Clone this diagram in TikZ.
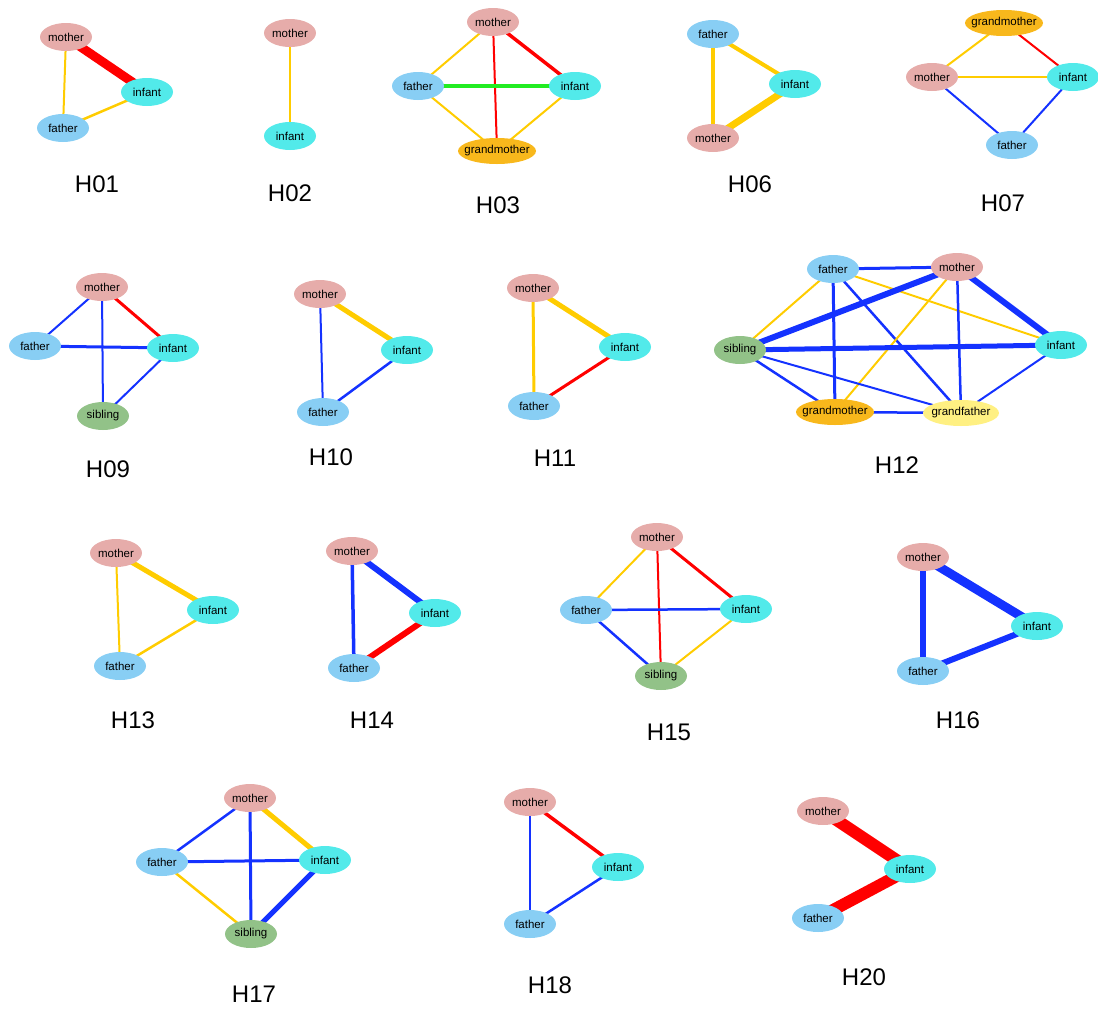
\documentclass[tikz,border=0pt]{standalone}
\usepackage{fontspec}
\setmainfont{Liberation Sans}
\usetikzlibrary{shapes.geometric}
\pgfdeclarelayer{bg}
\pgfsetlayers{bg,main}
\definecolor{mocol}{RGB}{230,172,170}
\definecolor{incol}{RGB}{82,234,234}
\definecolor{facol}{RGB}{136,206,244}
\definecolor{gmcol}{RGB}{248,184,28}
\definecolor{gfcol}{RGB}{255,240,130}
\definecolor{sicol}{RGB}{146,194,136}
\definecolor{ycol}{RGB}{255,204,0}
\definecolor{rcol}{RGB}{255,0,0}
\definecolor{bcol}{RGB}{20,50,255}
\definecolor{gcol}{RGB}{34,236,34}
\begin{document}
\begin{tikzpicture}[x=1pt,y=-1pt,
  nd/.style={ellipse,minimum width=52pt,minimum height=28pt,inner sep=0pt,font=\fontsize{11.5}{13}\selectfont},
  mo/.style={nd,fill=mocol},
  inf/.style={nd,fill=incol},
  fa/.style={nd,fill=facol},
  gm/.style={nd,fill=gmcol,minimum width=78pt,minimum height=26pt,inner xsep=-5.5pt},
  gf/.style={nd,fill=gfcol,minimum width=76pt,minimum height=26pt,inner xsep=-3pt},
  si/.style={nd,fill=sicol},
  lab/.style={font=\fontsize{24}{28}\selectfont,inner sep=0pt},
  ye/.style={draw=ycol,line width=#1},
  re/.style={draw=rcol,line width=#1},
  bl/.style={draw=bcol,line width=#1},
  gr/.style={draw=gcol,line width=#1}]
\useasboundingbox (0,0) rectangle (1098,1010);

% H01
\node[mo] (a1m) at (66,37) {mother};
\node[inf] (a1i) at (147,92) {infant};
\node[fa] (a1f) at (63,128) {father};
\node[lab] (a1l) at (97,184) {H01};
% H02
\node[mo] (a2m) at (290,33) {mother};
\node[inf] (a2i) at (290,136) {infant};
\node[lab] (a2l) at (290,193) {H02};
% H03
\node[mo] (a3m) at (493,22) {mother};
\node[fa] (a3f) at (418,86) {father};
\node[inf] (a3i) at (575,86) {infant};
\node[gm] (a3g) at (497,151) {grandmother};
\node[lab] (a3l) at (498,205) {H03};
% H06
\node[fa] (a6f) at (713,34) {father};
\node[inf] (a6i) at (795,84) {infant};
\node[mo] (a6m) at (713,138) {mother};
\node[lab] (a6l) at (750,184) {H06};
% H07
\node[gm] (a7g) at (1004,23) {grandmother};
\node[mo] (a7m) at (932,77) {mother};
\node[inf] (a7i) at (1073,77) {infant};
\node[fa] (a7f) at (1012,145) {father};
\node[lab] (a7l) at (1003,203) {H07};
% H09
\node[mo] (a9m) at (102,287) {mother};
\node[fa] (a9f) at (35,346) {father};
\node[inf] (a9i) at (173,348) {infant};
\node[si] (a9s) at (103,416) {sibling};
\node[lab] (a9l) at (108,469) {H09};
% H10
\node[mo] (b0m) at (320,294) {mother};
\node[inf] (b0i) at (407,350) {infant};
\node[fa] (b0f) at (323,412) {father};
\node[lab] (b0l) at (331,457) {H10};
% H11
\node[mo] (b1m) at (533,288) {mother};
\node[inf] (b1i) at (625,347) {infant};
\node[fa] (b1f) at (534,406) {father};
\node[lab] (b1l) at (555,458) {H11};
% H12
\node[fa] (b2f) at (833,269) {father};
\node[mo] (b2m) at (957,267) {mother};
\node[si] (b2s) at (740,350) {sibling};
\node[inf] (b2i) at (1061,345) {infant};
\node[gm] (b2g) at (835,412) {grandmother};
\node[gf] (b2h) at (961,413) {grandfather};
\node[lab] (b2l) at (897,465) {H12};
% H13
\node[mo] (b3m) at (116,553) {mother};
\node[inf] (b3i) at (213,610) {infant};
\node[fa] (b3f) at (120,666) {father};
\node[lab] (b3l) at (133,720) {H13};
% H14
\node[mo] (b4m) at (352,551) {mother};
\node[inf] (b4i) at (435,613) {infant};
\node[fa] (b4f) at (354,668) {father};
\node[lab] (b4l) at (372,720) {H14};
% H15
\node[mo] (b5m) at (657,537) {mother};
\node[fa] (b5f) at (586,610) {father};
\node[inf] (b5i) at (746,609) {infant};
\node[si] (b5s) at (661,676) {sibling};
\node[lab] (b5l) at (669,732) {H15};
% H16
\node[mo] (b6m) at (923,557) {mother};
\node[inf] (b6i) at (1037,626) {infant};
\node[fa] (b6f) at (923,671) {father};
\node[lab] (b6l) at (958,720) {H16};
% H17
\node[mo] (b7m) at (250,798) {mother};
\node[fa] (b7f) at (162,862) {father};
\node[inf] (b7i) at (325,860) {infant};
\node[si] (b7s) at (251,934) {sibling};
\node[lab] (b7l) at (254,994) {H17};
% H18
\node[mo] (b8m) at (530,802) {mother};
\node[inf] (b8i) at (618,867) {infant};
\node[fa] (b8f) at (530,924) {father};
\node[lab] (b8l) at (550,985) {H18};
% H20
\node[mo] (c0m) at (823,811) {mother};
\node[inf] (c0i) at (910,869) {infant};
\node[fa] (c0f) at (818,918) {father};
\node[lab] (c0l) at (864,977) {H20};

\begin{pgfonlayer}{bg}
% H01
\draw[re=9] (a1m.center) -- (a1i.center);
\draw[ye=2] (a1m.center) -- (a1f.center);
\draw[ye=2.5] (a1f.center) -- (a1i.center);
% H02
\draw[ye=2] (a2m.center) -- (a2i.center);
% H03
\draw[ye=2] (a3m.center) -- (a3f.center);
\draw[re=3.5] (a3m.center) -- (a3i.center);
\draw[re=2] (a3m.center) -- (a3g.center);
\draw[gr=3.5] (a3f.center) -- (a3i.center);
\draw[ye=2] (a3f.center) -- (a3g.center);
\draw[ye=2] (a3i.center) -- (a3g.center);
% H06
\draw[ye=4] (a6f.center) -- (a6i.center);
\draw[ye=4] (a6f.center) -- (a6m.center);
\draw[ye=7] (a6m.center) -- (a6i.center);
% H07
\draw[ye=2] (a7g.center) -- (a7m.center);
\draw[re=2] (a7g.center) -- (a7i.center);
\draw[ye=2.5] (a7m.center) -- (a7i.center);
\draw[bl=2] (a7m.center) -- (a7f.center);
\draw[bl=2] (a7i.center) -- (a7f.center);
% H09
\draw[bl=2] (a9m.center) -- (a9f.center);
\draw[re=3] (a9m.center) -- (a9i.center);
\draw[bl=2] (a9m.center) -- (a9s.center);
\draw[bl=3] (a9f.center) -- (a9i.center);
\draw[bl=2] (a9i.center) -- (a9s.center);
% H10
\draw[ye=5] (b0m.center) -- (b0i.center);
\draw[bl=2] (b0m.center) -- (b0f.center);
\draw[bl=2.5] (b0i.center) -- (b0f.center);
% H11
\draw[ye=5] (b1m.center) -- (b1i.center);
\draw[ye=3] (b1m.center) -- (b1f.center);
\draw[re=3] (b1i.center) -- (b1f.center);
% H12
\draw[bl=3] (b2f.center) -- (b2m.center);
\draw[ye=2] (b2f.center) -- (b2s.center);
\draw[bl=3] (b2f.center) -- (b2g.center);
\draw[bl=2.5] (b2f.center) -- (b2h.center);
\draw[ye=2] (b2f.center) -- (b2i.center);
\draw[bl=6] (b2m.center) -- (b2s.center);
\draw[ye=2] (b2m.center) -- (b2g.center);
\draw[bl=2.5] (b2m.center) -- (b2h.center);
\draw[bl=6] (b2m.center) -- (b2i.center);
\draw[bl=5] (b2s.center) -- (b2i.center);
\draw[bl=2.5] (b2s.center) -- (b2g.center);
\draw[bl=2] (b2s.center) -- (b2h.center);
\draw[bl=2.5] (b2g.center) -- (b2h.center);
\draw[bl=2] (b2i.center) -- (b2h.center);
% H13
\draw[ye=5] (b3m.center) -- (b3i.center);
\draw[ye=2] (b3m.center) -- (b3f.center);
\draw[ye=2.5] (b3i.center) -- (b3f.center);
% H14
\draw[bl=6] (b4m.center) -- (b4i.center);
\draw[bl=3.5] (b4m.center) -- (b4f.center);
\draw[re=6] (b4i.center) -- (b4f.center);
% H15
\draw[ye=2] (b5m.center) -- (b5f.center);
\draw[re=3] (b5m.center) -- (b5i.center);
\draw[re=2] (b5m.center) -- (b5s.center);
\draw[bl=2.5] (b5f.center) -- (b5i.center);
\draw[bl=2.5] (b5f.center) -- (b5s.center);
\draw[ye=2] (b5i.center) -- (b5s.center);
% H16
\draw[bl=9] (b6m.center) -- (b6i.center);
\draw[bl=6] (b6m.center) -- (b6f.center);
\draw[bl=6] (b6i.center) -- (b6f.center);
% H17
\draw[bl=2.5] (b7m.center) -- (b7f.center);
\draw[ye=5] (b7m.center) -- (b7i.center);
\draw[bl=3] (b7m.center) -- (b7s.center);
\draw[bl=3] (b7f.center) -- (b7i.center);
\draw[ye=2.5] (b7f.center) -- (b7s.center);
\draw[bl=5] (b7i.center) -- (b7s.center);
% H18
\draw[re=3.5] (b8m.center) -- (b8i.center);
\draw[bl=2] (b8m.center) -- (b8f.center);
\draw[bl=2.5] (b8i.center) -- (b8f.center);
% H20
\draw[re=12] (c0m.center) -- (c0i.center);
\draw[re=12] (c0i.center) -- (c0f.center);
\end{pgfonlayer}
\end{tikzpicture}
\end{document}
